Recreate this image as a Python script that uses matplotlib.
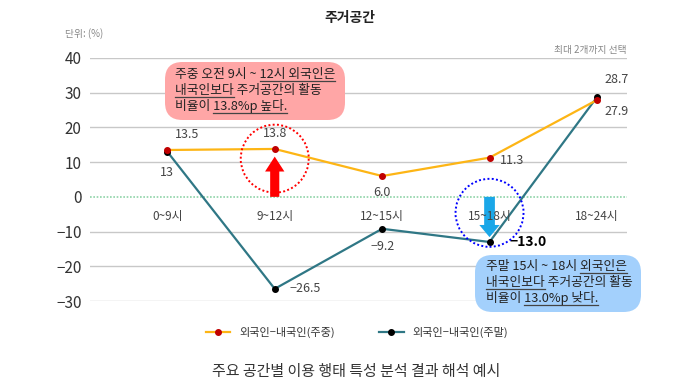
import numpy as np
import matplotlib
matplotlib.use("Agg")
import matplotlib.pyplot as plt
from matplotlib.patches import Circle, FancyBboxPatch
from matplotlib.lines import Line2D
import matplotlib.transforms as mtransforms

plt.rcParams['font.family'] = ['Noto Sans CJK KR', 'DejaVu Sans']
plt.rcParams['axes.unicode_minus'] = True

categories = ["0~9시", "9~12시", "12~15시", "15~18시", "18~24시"]
weekday = [13.5, 13.8, 6.0, 11.3, 27.9]
weekend = [13.0, -26.5, -9.2, -13.0, 28.7]
weekday_labels = ["13.5", "13.8", "6.0", "11.3", "27.9"]
weekend_labels = ["13", "\u221226.5", "\u22129.2", "\u221213.0", "28.7"]
yticks = [-30, -20, -10, 0, 10, 20, 30, 40]

W, H = 700, 392
fig = plt.figure(figsize=(7, 3.92), dpi=100)
ax = fig.add_axes([90 / W, 1 - 301 / H, (627 - 90) / W, (301 - 58) / H])

def px(x, y):
    # figure pixel (from top-left) -> figure fraction
    return x / W, 1 - y / H

x = np.arange(len(categories))
orange = "#FDB515"
teal = "#2F7785"

for v in yticks:
    if v == 0:
        ax.axhline(0, color="#8fd3a8", lw=1.2, ls=(0, (1, 1)), zorder=1)
    else:
        ax.axhline(v, color="#c8c8c8", lw=1.0, zorder=1)

ax.plot(x, weekend, color=teal, lw=1.6, marker="o", ms=4, mfc="black", mec="black", zorder=4)
ax.plot(x, weekday, color=orange, lw=1.6, marker="o", ms=4, mfc="#c00000", mec="#c00000", zorder=5)

ax.set_xlim(-0.72, 4.28)
ax.set_ylim(-30, 40)
ax.set_yticks(yticks)
ax.set_yticklabels([str(v).replace("-", "\u2212") for v in yticks], fontsize=11, color="#333333")
ax.tick_params(axis="y", length=0, pad=6)
ax.set_xticks([])
for s in ax.spines.values():
    s.set_visible(False)

for i, c in enumerate(categories):
    ax.text(i, -5.8, c, ha="center", va="center", fontsize=8.5, color="#444444", zorder=6)

# data labels (offsets in points)
wd_off = [(14, 11), (0, 11), (0, -12), (16, -2), (14, -8)]
we_off = [(0, -15), (22, 0), (0, -13), (28, 0), (14, 13)]
for i in range(len(categories)):
    ax.annotate(weekday_labels[i], (x[i], weekday[i]), xytext=wd_off[i], textcoords="offset points",
                ha="center", va="center", fontsize=9, color="#444444")
    bold = i == 3
    ax.annotate(weekend_labels[i], (x[i], weekend[i]), xytext=we_off[i], textcoords="offset points",
                ha="center", va="center", fontsize=10 if bold else 9,
                color="black" if bold else "#444444", fontweight="bold" if bold else "normal")

# highlight circles and arrows
for (ci, cy, col) in [(1, 11.0, "red"), (3, -4.6, "blue")]:
    tr = fig.dpi_scale_trans + mtransforms.ScaledTranslation(ci, cy, ax.transData)
    ax.add_patch(Circle((0, 0), 0.34, transform=tr, fill=False, ec=col, lw=1.4, ls=(0, (1, 1.2)),
                        zorder=6, clip_on=False))

ax.arrow(1, 0, 0, 11.6, width=0.085, head_width=0.18, head_length=4.3, length_includes_head=True,
         color="red", lw=0, zorder=3)
ax.arrow(3, 0, 0, -11.6, width=0.1, head_width=0.19, head_length=3.5, length_includes_head=True,
         color="#1aa7e8", lw=0, zorder=3)

# callout boxes
def box(x0, y0, x1, y1, color):
    a = px(x0, y1)
    b = px(x1, y0)
    p = FancyBboxPatch(a, b[0] - a[0], b[1] - a[1], boxstyle="round,pad=0,rounding_size=0.025",
                       transform=fig.transFigure, fc=color, ec="none", zorder=7,
                       mutation_aspect=W / H)
    fig.add_artist(p)

box(165, 62, 345, 120, "#ffa6a6")
box(475, 255, 641, 312, "#a3d0fc")

fig.canvas.draw()
renderer = fig.canvas.get_renderer()

def width_of(s, size):
    t = fig.text(0, 0, s, fontsize=size)
    w = t.get_window_extent(renderer).width
    t.remove()
    return w

def callout(x0, y0, lines, size=9.2, spacing=16):
    for k, (s, (i, j)) in enumerate(lines):
        yb = y0 + k * spacing
        fig.text(*px(x0, yb), s, fontsize=size, color="#222222", ha="left", va="baseline", zorder=8)
        ux0 = x0 + width_of(s[:i], size) if i > 0 else x0
        ux1 = x0 + width_of(s[:j], size)
        a = px(ux0, yb + 3)
        b = px(ux1, yb + 3)
        fig.add_artist(Line2D([a[0], b[0]], [a[1], b[1]], transform=fig.transFigure,
                              color="#444444", lw=0.9, zorder=8))

callout(175, 78, [("주중 오전 9시 ~ 12시 외국인은", (11, 19)),
                  ("내국인보다 주거공간의 활동", (0, 5)),
                  ("비율이 13.8%p 높다.", (4, 14))])
callout(486, 270, [("주말 15시 ~ 18시 외국인은", (13, 17)),
                   ("내국인보다 주거공간의 활동", (0, 5)),
                   ("비율이 13.0%p 낮다.", (4, 14))])

fig.text(*px(350, 18), "주거공간", ha="center", va="center", fontsize=10, fontweight="bold", color="#222222")
fig.text(*px(65, 34), "단위: (%)", ha="left", va="center", fontsize=7, color="#888888")
fig.text(*px(627, 50), "최대 2개까지 선택", ha="right", va="center", fontsize=7, color="#888888")

handles = [Line2D([], [], color=orange, lw=1.6, marker="o", ms=4, mfc="#c00000", mec="#c00000"),
           Line2D([], [], color=teal, lw=1.6, marker="o", ms=4, mfc="black", mec="black")]
fig.legend(handles, ["외국인\u2212내국인(주중)", "외국인\u2212내국인(주말)"], loc="center",
           bbox_to_anchor=px(357, 332), ncol=2, frameon=False, fontsize=8, columnspacing=4,
           handlelength=2.2, labelcolor="#333333")

fig.text(*px(356, 372), "주요 공간별 이용 행태 특성 분석 결과 해석 예시", ha="center", va="center",
         fontsize=10.8, color="#333333")

fig.savefig("out.png", dpi=100)
